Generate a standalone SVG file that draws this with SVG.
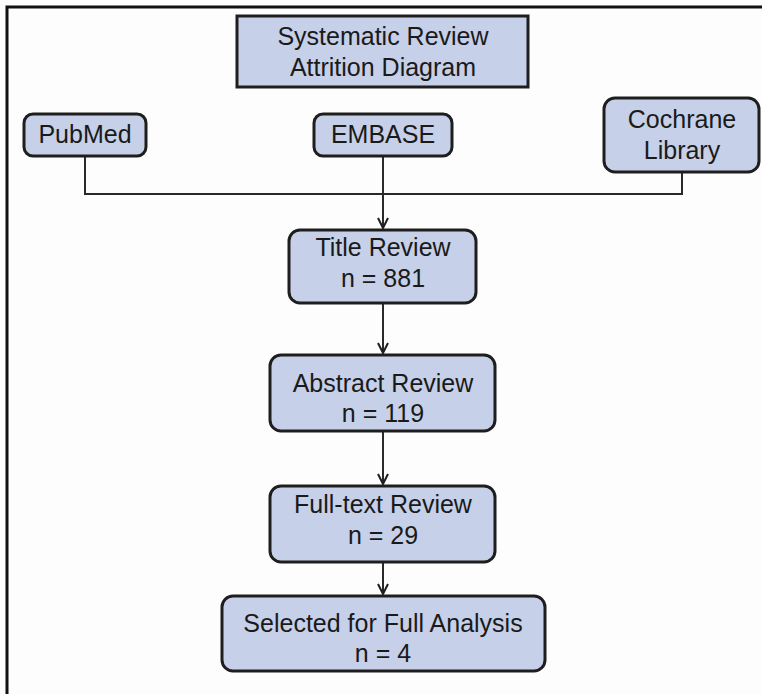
<svg xmlns="http://www.w3.org/2000/svg" width="762" height="694" viewBox="0 0 762 694">
<defs>
<style>
.box{fill:#c6d0e8;stroke:#1e1e1e;stroke-width:3}
.t{font-family:"Liberation Sans",Arial,sans-serif;font-size:25px;fill:#1a1a1a;text-anchor:middle}
.c{fill:none;stroke:#2a2a2a;stroke-width:2}
</style>
<marker id="ah" viewBox="0 0 12 12" refX="11" refY="6" markerWidth="12" markerHeight="12" markerUnits="userSpaceOnUse" orient="auto">
<path d="M1,1 L11,6 L1,11" fill="none" stroke="#1e1e1e" stroke-width="2"/>
</marker>
</defs>
<rect width="762" height="694" fill="#fdfdfd"/>
<path d="M7,694 V7 H762" fill="none" stroke="#111" stroke-width="3"/>
<g id="connectors">
<path class="c" d="M85,156 V194 H682 V172"/>
<path class="c" d="M383,156 V228" marker-end="url(#ah)"/>
<path class="c" d="M383,303 V353" marker-end="url(#ah)"/>
<path class="c" d="M383,431 V484" marker-end="url(#ah)"/>
<path class="c" d="M383,562 V594" marker-end="url(#ah)"/>
</g>
<g id="title">
<rect class="box" x="237" y="16" width="291" height="71"/>
<text class="t" x="383" y="45">Systematic Review</text>
<text class="t" x="383" y="76">Attrition Diagram</text>
</g>
<g id="pubmed">
<rect class="box" x="24" y="114" width="122" height="42" rx="9"/>
<text class="t" x="85" y="143">PubMed</text>
</g>
<g id="embase">
<rect class="box" x="314" y="114" width="138" height="42" rx="9"/>
<text class="t" x="383" y="143">EMBASE</text>
</g>
<g id="cochrane">
<rect class="box" x="604" y="98" width="155" height="74" rx="11"/>
<text class="t" x="682" y="128">Cochrane</text>
<text class="t" x="682" y="159">Library</text>
</g>
<g id="title-review">
<rect class="box" x="289" y="230" width="187" height="73" rx="11"/>
<text class="t" x="383" y="256">Title Review</text>
<text class="t" x="383" y="287">n = 881</text>
</g>
<g id="abstract-review">
<rect class="box" x="270" y="355" width="225" height="76" rx="11"/>
<text class="t" x="383" y="392">Abstract Review</text>
<text class="t" x="383" y="422">n = 119</text>
</g>
<g id="fulltext-review">
<rect class="box" x="270" y="486" width="225" height="76" rx="11"/>
<text class="t" x="383" y="513">Full-text Review</text>
<text class="t" x="383" y="544">n = 29</text>
</g>
<g id="selected">
<rect class="box" x="222" y="596" width="323" height="75" rx="11"/>
<text class="t" x="383" y="632">Selected for Full Analysis</text>
<text class="t" x="383" y="662">n = 4</text>
</g>
</svg>
